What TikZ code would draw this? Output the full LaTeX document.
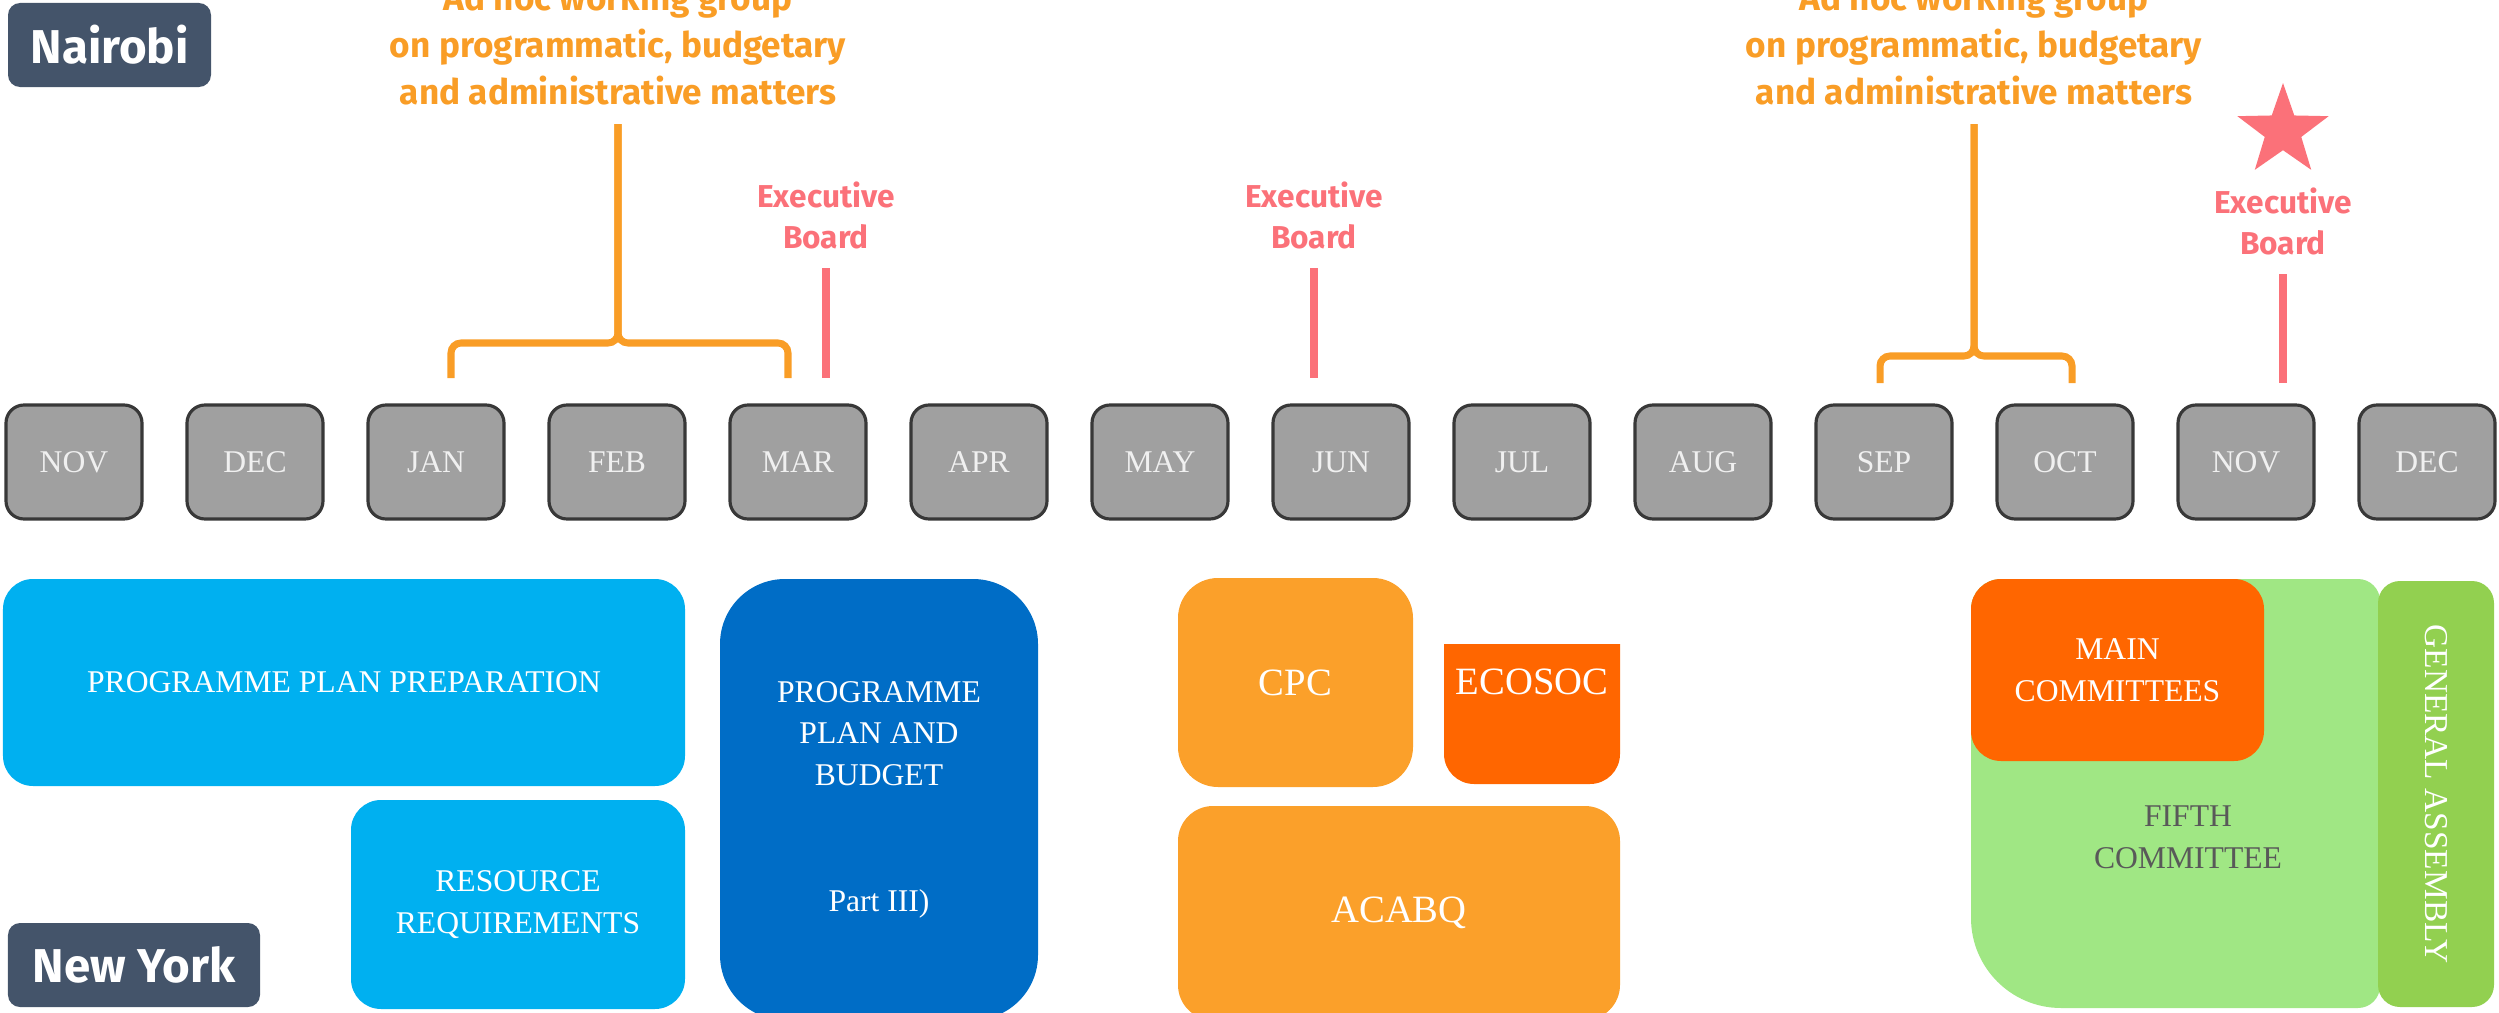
\documentclass[tikz,border=0pt]{standalone}
\usepackage{fontspec}
\setmainfont{Liberation Serif}
\newfontfamily\labelfont{Fira Sans}
\usetikzlibrary{positioning,shapes.geometric}

\definecolor{slate}{HTML}{44546A}
\definecolor{monthgray}{HTML}{A0A0A0}
\definecolor{adhocorange}{HTML}{F99D26}
\definecolor{salmon}{HTML}{FB7179}
\definecolor{skyblue}{HTML}{00B0F0}
\definecolor{deepblue}{HTML}{006DC6}
\definecolor{cpcorange}{HTML}{FBA02A}
\definecolor{redorange}{HTML}{FF6600}
\definecolor{palegreen}{HTML}{A0E784}
\definecolor{leafgreen}{HTML}{92D050}

\begin{document}
\begin{tikzpicture}[
    font=\fontsize{9}{11.9}\selectfont,
    node distance=0.45cm,
    month/.style={draw=black!78, line width=0.9pt, rounded corners=0.18cm, fill=monthgray, minimum width=1.36cm, minimum height=1.14cm, inner sep=0pt, outer sep=0pt, text=white!94!black},
    city/.style={fill=slate, rounded corners=0.12cm, text=white, font=\labelfont\bfseries\fontsize{13.5}{16}\selectfont, minimum height=0.84cm, inner sep=0pt},
    adhoc/.style={text=adhocorange, align=center, inner sep=0pt, font=\labelfont\bfseries\fontsize{10}{13.4}\selectfont},
    boardlbl/.style={text=salmon, align=center, inner sep=0pt, font=\labelfont\bfseries\fontsize{9}{11.7}\selectfont},
    bracket/.style={draw=adhocorange, line width=2pt, rounded corners=0.1cm},
    boardline/.style={draw=salmon, line width=2.2pt},
    stage/.style={rounded corners=0.3cm, text=white, align=center, inner sep=0pt},
    boxtext/.style={text=white, align=center, inner sep=0pt}
  ]
    \useasboundingbox (0,0) rectangle (24.99,-10.13);

    % places
    \node[city, minimum width=2.03cm] (nairobi) at (1.095,-0.45) {Nairobi};
    \node[city, minimum width=2.52cm] (newyork) at (1.34,-9.65) {New York};

    % months
    \node[month] (nov1) at (0.74,-4.62) {NOV};
    \node[month, right=of nov1] (dec1) {DEC};
    \node[month, right=of dec1] (jan) {JAN};
    \node[month, right=of jan] (feb) {FEB};
    \node[month, right=of feb] (mar) {MAR};
    \node[month, right=of mar] (apr) {APR};
    \node[month, right=of apr] (may) {MAY};
    \node[month, right=of may] (jun) {JUN};
    \node[month, right=of jun] (jul) {JUL};
    \node[month, right=of jul] (aug) {AUG};
    \node[month, right=of aug] (sep) {SEP};
    \node[month, right=of sep] (oct) {OCT};
    \node[month, right=of oct] (nov2) {NOV};
    \node[month, right=of nov2] (dec2) {DEC};

    % ad hoc working groups
    \coordinate (br1t) at (6.18,-1.24);
    \coordinate (br1m) at (6.18,-3.43);
    \coordinate (br1l) at (4.51,-3.78);
    \coordinate (br1r) at (7.88,-3.78);
    \node[adhoc, above=0.18cm of br1t] (adhoc1) {Ad hoc working group\\on programmatic, budgetary\\and administrative matters};
    \draw[bracket] (br1l) |- (br1m) -- (br1t);
    \draw[bracket] (br1r) |- (br1m) -- (br1t);

    \coordinate (br2t) at (19.74,-1.24);
    \coordinate (br2m) at (19.74,-3.56);
    \coordinate (br2l) at (18.80,-3.83);
    \coordinate (br2r) at (20.72,-3.83);
    \node[adhoc, above=0.18cm of br2t] (adhoc2) {Ad hoc working group\\on programmatic, budgetary\\and administrative matters};
    \draw[bracket] (br2l) |- (br2m) -- (br2t);
    \draw[bracket] (br2r) |- (br2m) -- (br2t);

    % executive board sessions
    \coordinate (eb1) at (8.26,-2.68);
    \coordinate (eb2) at (13.14,-2.68);
    \coordinate (eb3) at (22.83,-2.74);
    \node[boardlbl, above=0.18cm of eb1] (board1) {Executive\\Board};
    \node[boardlbl, above=0.18cm of eb2] (board2) {Executive\\Board};
    \node[boardlbl, above=0.18cm of eb3] (board3) {Executive\\Board};
    \node[star, star points=5, star point ratio=2.5, fill=salmon, minimum size=0.96cm, inner sep=0pt] (star) at (22.83,-1.31) {};
    \draw[boardline] (eb1) -- ([yshift=0.27cm]eb1 |- mar.north);
    \draw[boardline] (eb2) -- ([yshift=0.27cm]eb2 |- jun.north);
    \draw[boardline] (eb3) -- ([yshift=0.22cm]eb3 |- nov2.north);

    % programme planning in New York
    \node[stage, fill=skyblue, minimum width=6.82cm, minimum height=2.07cm] (ppp) at (3.44,-6.825) {PROGRAMME PLAN PREPARATION};
    \node[stage, fill=skyblue, minimum width=3.34cm, minimum height=2.09cm] (resreq) at (5.18,-9.045) {RESOURCE\\REQUIREMENTS};
    \node[stage, fill=deepblue, rounded corners=0.65cm, minimum width=3.18cm, minimum height=4.41cm] (ppb) at (8.79,-7.995) {PROGRAMME\\PLAN AND\\BUDGET\\[23.8pt]Part III)};

    \node[stage, fill=cpcorange, rounded corners=0.4cm, minimum width=2.35cm, minimum height=2.09cm, font=\fontsize{11}{13}\selectfont] (cpc) at (12.955,-6.825) {CPC};
    \fill[redorange] (14.44,-6.44) -- (16.20,-6.44) -- (16.20,-7.54) arc[start angle=0, end angle=-90, radius=0.3] -- (14.74,-7.84) arc[start angle=270, end angle=180, radius=0.3] -- cycle;
    \node[boxtext, font=\fontsize{11}{13}\selectfont] (ecosoc) at (15.32,-6.82) {ECOSOC};
    \node[stage, fill=cpcorange, rounded corners=0.35cm, minimum width=4.42cm, minimum height=2.14cm, font=\fontsize{11}{13}\selectfont] (acabq) at (13.99,-9.13) {ACABQ};

    % General Assembly
    \fill[palegreen] (19.71,-6.09) arc[start angle=180, end angle=90, radius=0.3] -- (23.58,-5.79) arc[start angle=90, end angle=0, radius=0.22] -- (23.80,-9.86) arc[start angle=0, end angle=-90, radius=0.22] -- (20.61,-10.08) arc[start angle=270, end angle=180, radius=0.9] -- cycle;
    \node[boxtext, text=black!65] (fifth) at (21.88,-8.37) {FIFTH\\COMMITTEE};
    \node[stage, fill=redorange, minimum width=2.93cm, minimum height=1.82cm] (maincomm) at (21.175,-6.70) {MAIN\\COMMITTEES};
    \node[stage, fill=leafgreen, rounded corners=0.22cm, minimum width=1.16cm, minimum height=4.26cm] (genass) at (24.36,-7.94) {};
    \node[boxtext, rotate=-90, font=\fontsize{9.5}{11}\selectfont] (galabel) at (genass) {GENERAL ASSEMBLY};
  \end{tikzpicture}
\end{document}
